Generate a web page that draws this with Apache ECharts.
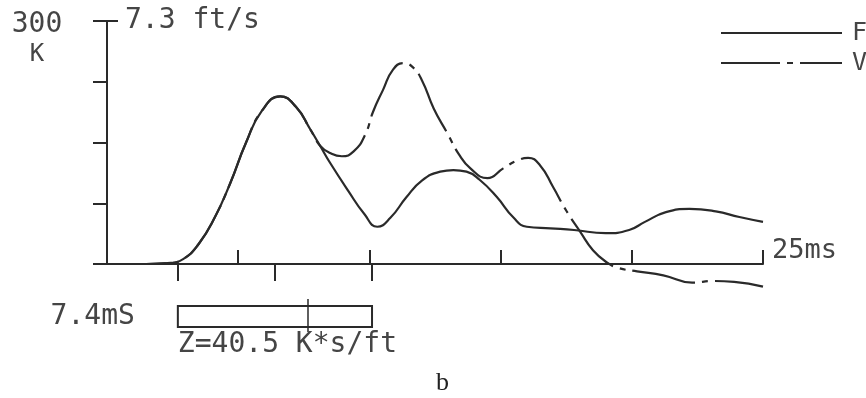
<!DOCTYPE html>
<html>
<head>
<meta charset="utf-8">
<script src="https://cdn.jsdelivr.net/npm/echarts@6/dist/echarts.min.js"></script>
<style>
  html, body { margin: 0; padding: 0; background: #fff; }
  #chart { width: 866px; height: 398px; }
</style>
</head>
<body>
<div id="chart"></div>
<script>
// force trace F (K) and velocity trace V (scaled to K by Z), time in ms
const fTime = [0, 1.5, 2.3, 2.9, 3.5, 4.1, 4.7, 5.3, 5.9, 6.6, 7.2, 7.75, 8.12,
  8.5, 9.2, 9.8, 10.3, 10.8, 11.4, 12.0, 12.7, 13.2, 13.7, 14.2, 14.85, 15.5,
  16.0, 16.9, 17.8, 19.0, 19.9, 20.5, 21.3, 22.2, 23.2, 24.1, 25];
const fForce = [0, 0, 1, 6, 25, 57, 100, 150, 189, 207, 194, 166, 146,
  125, 90, 62, 46, 57, 82, 103, 114, 116, 114, 104, 83, 57,
  46, 44, 42, 38, 42, 52, 64, 68, 65, 58, 52];

const vTime = [0, 1.5, 2.3, 2.9, 3.5, 4.1, 4.7, 5.3, 5.9, 6.6, 7.2, 7.75, 8.12,
  8.5, 8.95, 9.4, 9.83, 10.14, 10.52, 10.9, 11.3, 11.65, 12.0, 12.45, 12.96, 13.4, 13.85,
  14.5, 15.1, 15.65, 16.05, 16.5, 17.0, 17.5, 18.03, 18.52, 19.05, 19.5, 20.2, 21.2,
  22.3, 23.1, 23.9, 25];
const vVel = [0, 0, 1, 6, 25, 57, 100, 150, 189, 207, 194, 166, 146,
  137, 133, 139, 159, 188, 215, 240, 248, 243, 227, 192, 162, 136, 118,
  106, 118, 128, 131, 122, 95, 66, 40, 17, 2, -5, -9, -14,
  -23, -21, -22, -28];

const seriesNames = ['F', 'V'];
const markTimes = [2.7, 6.4, 10.1];      // impact, L/c, 2L/c
const windowBox = [2.7, 10.1, 7.66];     // start, end, marker
const windowLabel = '7.4mS';
const impedanceLabel = 'Z=40.5 K*s/ft';
const forceTopLabel = ['300', 'K'];
const velTopLabel = '7.3 ft/s';
const timeEndLabel = '25ms';

const ink = '#2a2a2a';
const textInk = '#454545';
const mono = 'DejaVu Sans Mono';

const chart = echarts.init(document.getElementById('chart'));

const pairs = (xs, ys) => xs.map((x, i) => [x, ys[i]]);

chart.setOption({
  animation: false,
  backgroundColor: '#fff',
  title: {
    text: 'b',
    left: 436,
    top: 370,
    padding: 0,
    textStyle: { fontFamily: 'Liberation Serif', fontSize: 26, fontWeight: 'normal', color: '#222' }
  },
  legend: {
    data: seriesNames,
    orient: 'vertical',
    left: 720,
    top: 19,
    padding: 0,
    itemWidth: 121,
    itemHeight: 14,
    itemGap: 2,
    itemStyle: { opacity: 0 },
    textStyle: { fontFamily: mono, fontSize: 25, color: textInk, lineHeight: 14, padding: [0, 0, 14, 5] }
  },
  grid: [
    { left: 107, right: 103, top: 21, bottom: 134 },
    { left: 107, right: 103, top: 306, height: 21 }
  ],
  xAxis: [
    {
      gridIndex: 0, type: 'value', min: 0, max: 25, interval: 5,
      axisLine: { lineStyle: { color: ink, width: 2 } },
      axisTick: { inside: true, length: 14, lineStyle: { color: ink, width: 2 } },
      axisLabel: { show: false },
      splitLine: { show: false },
      name: timeEndLabel, nameLocation: 'end', nameGap: 9,
      nameTextStyle: { fontFamily: mono, fontSize: 27, color: textInk, verticalAlign: 'bottom', lineHeight: 26 }
    },
    {
      gridIndex: 0, type: 'value', min: 0, max: 25, position: 'bottom',
      axisLine: { show: false },
      axisTick: { show: true, customValues: markTimes, length: 17, lineStyle: { color: ink, width: 2 } },
      axisLabel: { show: false },
      splitLine: { show: false }
    },
    { gridIndex: 1, type: 'value', min: 0, max: 25, show: false }
  ],
  yAxis: [
    {
      gridIndex: 0, type: 'value', min: 0, max: 300, interval: 75,
      axisLine: { show: true, lineStyle: { color: ink, width: 2 } },
      axisTick: { show: true, length: 14, lineStyle: { color: ink, width: 2 } },
      axisLabel: {
        customValues: [300],
        formatter: () => '{a|' + forceTopLabel[0] + '}\n{b|' + forceTopLabel[1] + '}',
        margin: 70, align: 'center', verticalAlign: 'top',
        rich: {
          a: { fontFamily: mono, fontSize: 28, color: textInk, lineHeight: 8, align: 'center' },
          b: { fontFamily: mono, fontSize: 24, color: textInk, lineHeight: 52, align: 'center' }
        }
      },
      splitLine: { show: false }
    },
    {
      gridIndex: 0, type: 'value', min: 0, max: 300, position: 'left', offset: 0,
      axisLine: { show: false },
      axisTick: { show: true, inside: true, customValues: [300], length: 11, lineStyle: { color: ink, width: 2 } },
      axisLabel: {
        inside: true, customValues: [300], formatter: () => velTopLabel,
        margin: 18, align: 'left', fontFamily: mono, fontSize: 28, color: textInk
      },
      splitLine: { show: false }
    },
    { gridIndex: 1, type: 'value', min: 0, max: 1, show: false }
  ],
  series: [
    {
      name: 'F', type: 'line', xAxisIndex: 0, yAxisIndex: 0,
      data: pairs(fTime, fForce),
      smooth: 0.5, symbol: 'none', clip: false,
      itemStyle: { color: ink },
      lineStyle: { color: ink, width: 2.2 }
    },
    {
      name: 'V', type: 'line', xAxisIndex: 0, yAxisIndex: 0,
      data: pairs(vTime, vVel),
      smooth: 0.5, symbol: 'none', clip: false,
      itemStyle: { color: ink },
      lineStyle: { color: ink, width: 2.2, type: [64, 7, 6, 7], dashOffset: 5 }
    },
    {
      type: 'custom', xAxisIndex: 2, yAxisIndex: 2,
      data: [windowBox],
      clip: false,
      renderItem: (params, api) => {
        const p0 = api.coord([api.value(0), 1]);
        const p1 = api.coord([api.value(1), 0]);
        const pm = api.coord([api.value(2), 0]);
        return {
          type: 'group',
          children: [
            { type: 'rect', shape: { x: p0[0], y: p0[1], width: p1[0] - p0[0], height: p1[1] - p0[1] },
              style: { fill: 'none', stroke: ink, lineWidth: 2 } },
            { type: 'line', shape: { x1: pm[0], y1: p0[1] - 7, x2: pm[0], y2: p1[1] + 5 },
              style: { stroke: ink, lineWidth: 1.5 } },
            { type: 'text', style: { text: windowLabel, x: p0[0] - 43, y: (p0[1] + p1[1]) / 2,
              align: 'right', verticalAlign: 'middle', fontFamily: mono, fontSize: 28, fill: textInk } },
            { type: 'text', style: { text: impedanceLabel, x: p0[0], y: p1[1] + 18,
              align: 'left', verticalAlign: 'middle', fontFamily: mono, fontSize: 28, fill: textInk } }
          ]
        };
      }
    }
  ]
});
</script>
</body>
</html>
